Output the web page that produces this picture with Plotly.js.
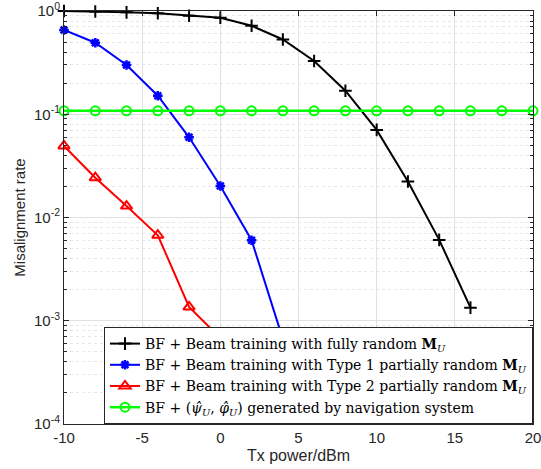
<!DOCTYPE html>
<html><head><meta charset="utf-8">
<script src="https://cdn.plot.ly/plotly-3.0.1.min.js"></script>
<style>body{margin:0;background:#fff}#c{width:541px;height:469px}</style>
</head><body><div id="c"></div>
<script>
const txFull = [-10,-8,-6,-4,-2,0,2,4,6,8,10,12,14,16];
const rateFull = [1.0,0.99,0.97,0.95,0.90,0.86,0.72,0.53,0.328,0.169,0.0705,0.0223,0.00607,0.00134];
const txType1 = [-10,-8,-6,-4,-2,0,2,4];
const rateType1 = [0.655,0.493,0.30,0.151,0.0598,0.0202,0.00603,0.000664];
const txType2 = [-10,-8,-6,-4,-2,0];
const rateType2 = [0.0493,0.0243,0.0129,0.00673,0.00136,0.00068];
const txNav = [-10,-8,-6,-4,-2,0,2,4,6,8,10,12,14,16,18,20];
const rateNav = [0.108,0.108,0.108,0.108,0.108,0.108,0.108,0.108,0.108,0.108,0.108,0.108,0.108,0.108,0.108,0.108];
const names = [
  'BF + Beam training with fully random <b>M</b><sub><i>U</i></sub>',
  'BF + Beam training with Type 1 partially random <b>M</b><sub><i>U</i></sub>',
  'BF + Beam training with Type 2 partially random <b>M</b><sub><i>U</i></sub>',
  'BF + (<i>\u03C8\u0302</i><sub><i>U</i></sub>, <i>\u03C6\u0302</i><sub><i>U</i></sub>) generated by navigation system'
];
const xTicks = [-10,-5,0,5,10,15,20];
const xTickText = ['-10','-5','0','5','10','15','20'];
const yTicks = [1e-4,1e-3,1e-2,1e-1,1];
const yTickText = ['10<sup>-4</sup>','10<sup>-3</sup>','10<sup>-2</sup>','10<sup>-1</sup>','10<sup>0</sup>'];

const traces = [
  {x: txFull, y: rateFull, name: names[0], mode:'lines+markers', line:{color:'#000',width:2},
   marker:{symbol:'cross-thin-open',size:9,line:{color:'#000',width:2}}, cliponaxis:false},
  {x: txType1, y: rateType1, name: names[1], mode:'lines+markers', line:{color:'#0000ff',width:2},
   marker:{symbol:'asterisk-open',size:8,line:{color:'#0000ff',width:2.5}}, cliponaxis:false},
  {x: txType2, y: rateType2, name: names[2], mode:'lines+markers', line:{color:'#ff0000',width:2},
   marker:{symbol:'triangle-up-open',size:10,color:'#ff0000',line:{color:'#ff0000',width:2}}, cliponaxis:false},
  {x: txNav, y: rateNav, name: names[3], mode:'lines+markers', line:{color:'#00ff00',width:2.5},
   marker:{symbol:'circle-open',size:9,color:'#00ff00',line:{color:'#00ff00',width:2}}, cliponaxis:false}
];
const axFont = {family:'Liberation Sans', size:15, color:'#262626'};
const layout = {
  width:541, height:469,
  margin:{l:64, r:8, t:11, b:45},
  paper_bgcolor:'#fff', plot_bgcolor:'#fff',
  showlegend:true,
  legend:{x:1, y:0, xanchor:'right', yanchor:'bottom', bgcolor:'#fff', bordercolor:'#262626', borderwidth:1,
    font:{family:'DejaVu Serif', size:14, color:'#000'}, tracegroupgap:0, itemwidth:30},
  xaxis:{range:[-10,20], tickmode:'array', tickvals:xTicks, ticktext:xTickText, ticks:'inside', ticklen:5, tickcolor:'#262626',
    showline:true, linecolor:'#262626', linewidth:1, mirror:'ticks', showgrid:true, gridcolor:'#e1e1e1', gridwidth:1,
    zeroline:false, tickfont:axFont, ticklabeloverflow:'allow',
    title:{text:'Tx power/dBm', font:{family:'Liberation Sans', size:16, color:'#262626'}, standoff:4}},
  yaxis:{type:'log', range:[-4,0], tickmode:'array', tickvals:yTicks, ticktext:yTickText, ticks:'inside', ticklen:5,
    tickcolor:'#262626', showline:true, linecolor:'#262626', linewidth:1, mirror:'ticks', showgrid:true,
    gridcolor:'#e1e1e1', gridwidth:1, zeroline:false, tickfont:axFont, ticklabeloverflow:'allow',
    minor:{dtick:'D1', ticks:'inside', ticklen:3, tickcolor:'#262626', showgrid:true, gridcolor:'#e6e6e6', griddash:'dot', gridwidth:1},
    title:{text:'Misalignment rate', font:{family:'Liberation Sans', size:15, color:'#262626'}, standoff:4}}
};
Plotly.newPlot('c', traces, layout, {displayModeBar:false, staticPlot:true});
</script>
</body></html>
